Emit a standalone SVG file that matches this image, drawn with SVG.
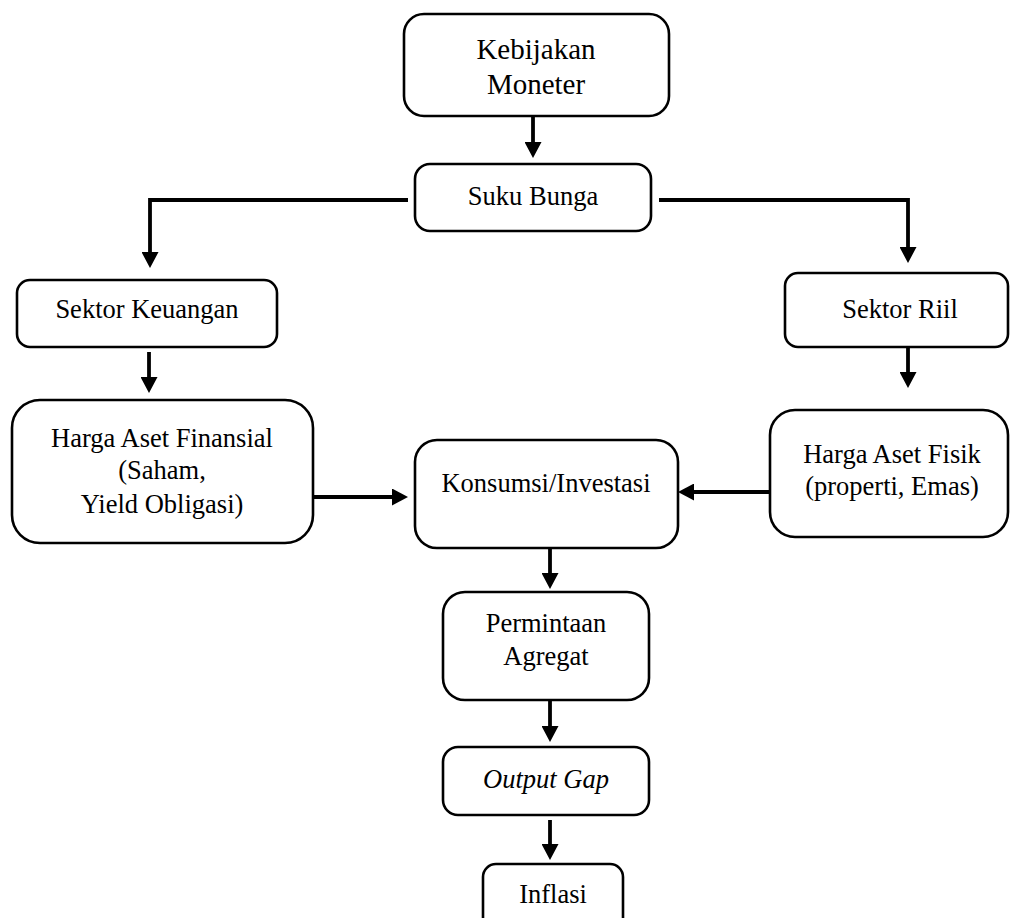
<svg xmlns="http://www.w3.org/2000/svg" width="1010" height="918" viewBox="0 0 1010 918">
<style>
.box{fill:#fff;stroke:#000;stroke-width:2.6}
.t{font-family:"Liberation Serif","Times New Roman",serif;font-size:26.5px;fill:#000;text-anchor:middle}
.big{font-size:29px}
.it{font-style:italic}
.c{fill:none;stroke:#000;stroke-width:3.8}
</style>
<defs>
<marker id="ah" markerUnits="userSpaceOnUse" markerWidth="16" markerHeight="17" refX="0" refY="8.5" orient="auto" viewBox="0 0 16 17">
<path d="M0,0 L16,8.5 L0,17 Z" fill="#000"/>
</marker>
</defs>
<rect width="1010" height="918" fill="#fff"/>
<g id="connectors">
<line class="c" x1="533" y1="117" x2="533" y2="142" marker-end="url(#ah)"/>
<polyline class="c" points="408,200 150,200 150,252" marker-end="url(#ah)"/>
<polyline class="c" points="659,200 908,200 908,247" marker-end="url(#ah)"/>
<line class="c" x1="149" y1="352" x2="149" y2="377" marker-end="url(#ah)"/>
<line class="c" x1="908" y1="348" x2="908" y2="372" marker-end="url(#ah)"/>
<line class="c" x1="314" y1="497" x2="392" y2="497" marker-end="url(#ah)"/>
<line class="c" x1="770" y1="492" x2="694" y2="492" marker-end="url(#ah)"/>
<line class="c" x1="550" y1="549" x2="550" y2="573" marker-end="url(#ah)"/>
<line class="c" x1="550" y1="701" x2="550" y2="726" marker-end="url(#ah)"/>
<line class="c" x1="550" y1="820" x2="550" y2="844" marker-end="url(#ah)"/>
</g>
<g id="kebijakan">
<rect class="box" x="404" y="14" width="265" height="102" rx="20"/>
<text class="t big" x="536" y="59">Kebijakan</text>
<text class="t big" x="536" y="94">Moneter</text>
</g>
<g id="suku-bunga">
<rect class="box" x="415" y="164" width="236" height="67" rx="15"/>
<text class="t" x="533" y="205">Suku Bunga</text>
</g>
<g id="sektor-keuangan">
<rect class="box" x="17" y="280" width="260" height="67" rx="13"/>
<text class="t" x="147" y="318">Sektor Keuangan</text>
</g>
<g id="sektor-riil">
<rect class="box" x="785" y="273" width="223" height="74" rx="13"/>
<text class="t" x="900" y="318">Sektor Riil</text>
</g>
<g id="harga-aset-finansial">
<rect class="box" x="12" y="400" width="301" height="143" rx="28"/>
<text class="t" x="162" y="447">Harga Aset Finansial</text>
<text class="t" x="162" y="479">(Saham,</text>
<text class="t" x="162" y="513">Yield Obligasi)</text>
</g>
<g id="harga-aset-fisik">
<rect class="box" x="770" y="410" width="238" height="127" rx="25"/>
<text class="t" x="892" y="463">Harga Aset Fisik</text>
<text class="t" x="892" y="495">(properti, Emas)</text>
</g>
<g id="konsumsi-investasi">
<rect class="box" x="415" y="440" width="263" height="108" rx="22"/>
<text class="t" x="546" y="492">Konsumsi/Investasi</text>
</g>
<g id="permintaan-agregat">
<rect class="box" x="443" y="592" width="206" height="108" rx="22"/>
<text class="t" x="546" y="632">Permintaan</text>
<text class="t" x="546" y="665">Agregat</text>
</g>
<g id="output-gap">
<rect class="box" x="443" y="747" width="206" height="68" rx="15"/>
<text class="t it" x="546" y="788">Output Gap</text>
</g>
<g id="inflasi">
<rect class="box" x="483" y="864" width="140" height="70" rx="13"/>
<text class="t" x="553" y="903">Inflasi</text>
</g>
</svg>
